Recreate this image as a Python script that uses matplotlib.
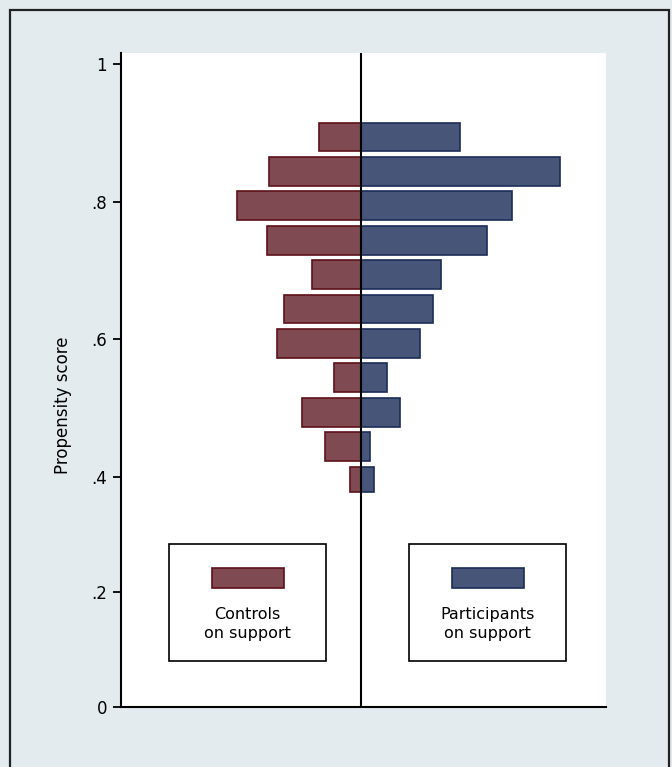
import numpy as np
import matplotlib.pyplot as plt
from matplotlib.patches import Rectangle

# propensity-score bins (bin centres) and bar lengths for each group
bin_centers = [0.894, 0.844, 0.794, 0.744, 0.694, 0.644, 0.594, 0.544, 0.494, 0.444, 0.394]
controls = [0.42, 0.92, 1.24, 0.94, 0.49, 0.77, 0.84, 0.27, 0.59, 0.36, 0.11]
participants = [0.99, 1.99, 1.51, 1.26, 0.80, 0.72, 0.59, 0.26, 0.39, 0.09, 0.13]
yticks = [0, 0.2, 0.4, 0.6, 0.8, 1]
ytick_labels = ['0', '.2', '.4', '.6', '.8', '1']

BG = '#e4ebee'
CTRL_FILL, CTRL_EDGE = '#7f4a51', '#5e1119'
PART_FILL, PART_EDGE = '#475678', '#1b2c58'

W, H = 672, 767
plt.rcParams['font.family'] = ['DejaVu Sans']


def fx(px):
    return px / W


def fy(py):
    return 1 - py / H


# the lower part of the axis (below .4) is drawn squeezed
K = 0.836


def fwd(y):
    y = np.asarray(y, dtype=float)
    return np.where(y < 0.4, 0.4 - (0.4 - y) * K, y)


def inv(v):
    v = np.asarray(v, dtype=float)
    return np.where(v < 0.4, 0.4 - (0.4 - v) / K, v)


fig = plt.figure(figsize=(W / 100, H / 100), dpi=100, facecolor=BG)

# outer frame
fig.add_artist(Rectangle((fx(10), fy(790)), fx(669) - fx(10), fy(10) - fy(790),
                         transform=fig.transFigure, fill=False,
                         edgecolor='#222222', linewidth=1.6))

ax = fig.add_axes([fx(121), fy(707), fx(606) - fx(121), fy(53) - fy(707)])
ax.set_facecolor('white')
ax.set_yscale('function', functions=(fwd, inv))

bar_h = 0.042
ax.barh(bin_centers, [-v for v in controls], height=bar_h,
        color=CTRL_FILL, edgecolor=CTRL_EDGE, linewidth=1.2)
ax.barh(bin_centers, participants, height=bar_h,
        color=PART_FILL, edgecolor=PART_EDGE, linewidth=1.2)
ax.axvline(0, color='black', linewidth=1.5)

ax.set_xlim(-2.40, 2.45)
ax.set_ylim(0, 1.016)
ax.set_xticks([])
ax.set_yticks(yticks, ytick_labels)
ax.tick_params(axis='y', direction='out', length=6, width=1.3, pad=4,
               labelsize=12)
for side in ('top', 'right'):
    ax.spines[side].set_visible(False)
for side in ('left', 'bottom'):
    ax.spines[side].set_linewidth(1.5)

fig.text(fx(63), fy(405), 'Propensity score', rotation=90,
         ha='center', va='center', fontsize=12)

# legend boxes: swatch above a two-line label
legend_items = [
    (169, 326, CTRL_FILL, CTRL_EDGE, 'Controls\non support'),
    (409, 566, PART_FILL, PART_EDGE, 'Participants\non support'),
]
for x0, x1, fill, edge, label in legend_items:
    fig.add_artist(Rectangle((fx(x0), fy(661)), fx(x1) - fx(x0), fy(544) - fy(661),
                             transform=fig.transFigure, facecolor='white',
                             edgecolor='black', linewidth=1.2))
    cx = (x0 + x1) / 2
    fig.add_artist(Rectangle((fx(cx - 36), fy(588)), fx(72), fy(568) - fy(588),
                             transform=fig.transFigure, facecolor=fill,
                             edgecolor=edge, linewidth=1.2))
    fig.text(fx(cx), fy(624), label, ha='center', va='center',
             fontsize=11.5, linespacing=1.3)

fig.savefig('out.png', dpi=100, facecolor=BG)
